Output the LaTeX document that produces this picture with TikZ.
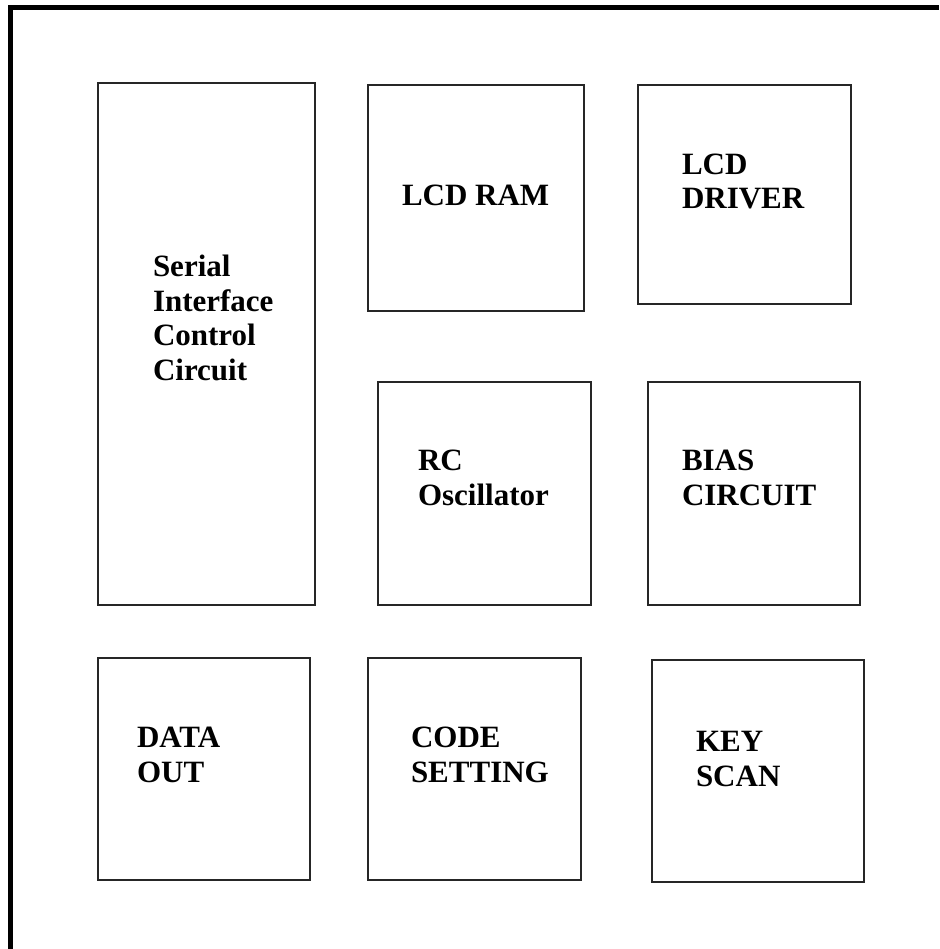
\documentclass[tikz,border=0pt]{standalone}
\usepackage{fontspec}
\setmainfont{Liberation Serif}
\begin{document}
\begin{tikzpicture}[x=1pt,y=-1pt,
  blk/.style={draw=black!85,line width=1.2pt,anchor=north west,inner sep=0pt,outer sep=0pt},
  % the base anchor of a multi-line label sits on its last line
  lbl/.style={anchor=base west,align=left,inner sep=0pt,outer sep=0pt,
    font=\fontsize{31}{34.5}\selectfont\bfseries}]
\useasboundingbox (0,0) rectangle (939,949);
% outer frame: heavy rule along the left and top edges only
\draw[line width=5pt,line cap=butt,line join=miter] (10.5,949) -- (10.5,7.5) -- (939,7.5);
% function blocks
\node[blk,minimum width=217pt,minimum height=522pt] (serial)  at (98,83)  {};
\node[blk,minimum width=216pt,minimum height=226pt] (lcdram)  at (368,85) {};
\node[blk,minimum width=213pt,minimum height=219pt] (lcddrv)  at (638,85) {};
\node[blk,minimum width=213pt,minimum height=223pt] (rcosc)   at (378,382) {};
\node[blk,minimum width=212pt,minimum height=223pt] (bias)    at (648,382) {};
\node[blk,minimum width=212pt,minimum height=222pt] (dataout) at (98,658) {};
\node[blk,minimum width=213pt,minimum height=222pt] (code)    at (368,658) {};
\node[blk,minimum width=212pt,minimum height=222pt] (keyscan) at (652,660) {};
% block labels (positioned by the baseline of their last line)
\node[lbl] (serialtxt)  at (153,380) {Serial\\Interface\\Control\\Circuit};
\node[lbl] (lcdramtxt)  at (402,206) {LCD RAM};
\node[lbl] (lcddrvtxt)  at (682,209) {LCD\\DRIVER};
\node[lbl] (rcosctxt)   at (418,505) {RC\\Oscillator};
\node[lbl] (biastxt)    at (682,505) {BIAS\\CIRCUIT};
\node[lbl] (dataouttxt) at (137,782) {DATA\\OUT};
\node[lbl] (codetxt)    at (411,782) {CODE\\SETTING};
\node[lbl] (keyscantxt) at (696,786) {KEY\\SCAN};
\end{tikzpicture}
\end{document}
